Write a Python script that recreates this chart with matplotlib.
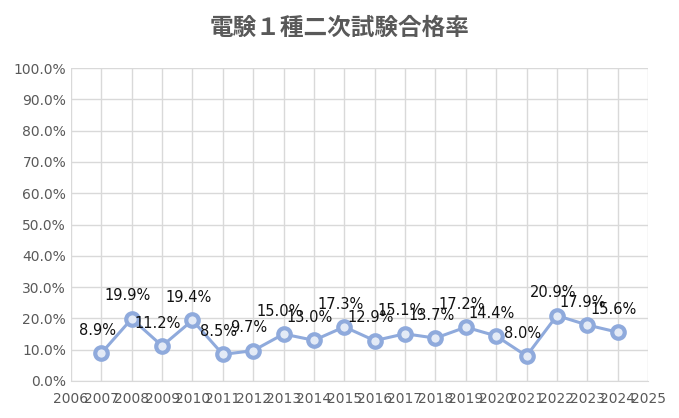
import matplotlib.pyplot as plt
from matplotlib.ticker import PercentFormatter

plt.rcParams['font.family'] = ['Noto Sans CJK JP', 'DejaVu Sans']

years = list(range(2007, 2025))
rates = [8.9, 19.9, 11.2, 19.4, 8.5, 9.7, 15.0, 13.0, 17.3, 12.9,
         15.1, 13.7, 17.2, 14.4, 8.0, 20.9, 17.9, 15.6]

fig = plt.figure(figsize=(6.79, 4.18), dpi=100)
ax = fig.add_axes([71/679, 1-381/418, (648-71)/679, (381-68)/418])

col = '#8faadc'
ax.plot(years, rates, color=col, lw=2.2, marker='o', ms=9,
        markerfacecolor='#e3eaf6', markeredgecolor=col, markeredgewidth=3, zorder=3)
for x, y in zip(years, rates):
    ax.annotate(f'{y:.1f}%', (x, y), xytext=(-3, 11), textcoords='offset points',
                ha='center', va='bottom', fontsize=10.5, family='DejaVu Sans', color='#111111')

ax.set_xlim(2006, 2025)
ax.set_ylim(0, 100)
ax.set_xticks(range(2006, 2026))
ax.set_yticks(range(0, 101, 10))
ax.yaxis.set_major_formatter(PercentFormatter(decimals=1))
ax.grid(True, color='#d9d9d9', lw=1)
ax.set_axisbelow(True)
for s in ['top', 'right', 'left']:
    ax.spines[s].set_visible(False)
ax.spines['bottom'].set_color('#d9d9d9')
ax.tick_params(length=0, colors='#595959', labelsize=10)
ax.tick_params(axis='x', pad=8)
for t in ax.get_xticklabels() + ax.get_yticklabels():
    t.set_family('DejaVu Sans')

fig.text(0.5, 1-28/418, '電験１種二次試験合格率', ha='center', va='center',
         fontsize=17, color='#595959', fontweight='bold')

fig.savefig('out.png', dpi=100)
